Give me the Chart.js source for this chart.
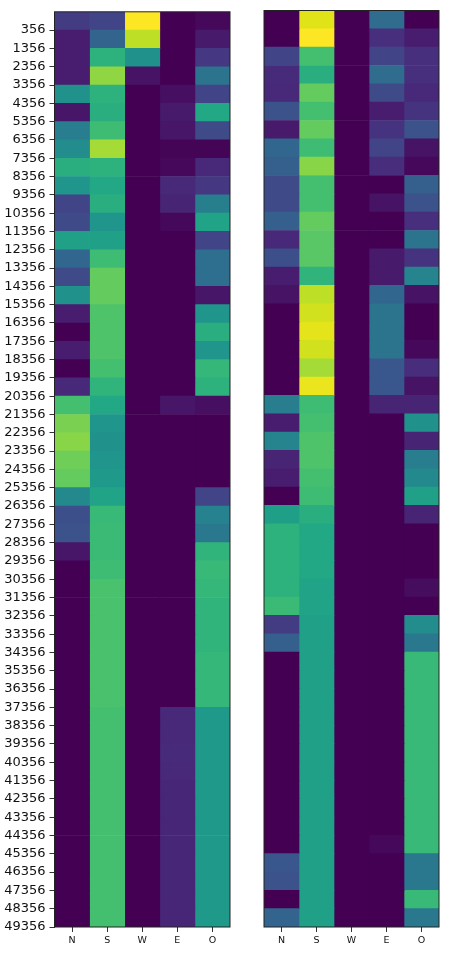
<!DOCTYPE html>
<html>
<head>
<meta charset="utf-8">
<script src="https://cdn.jsdelivr.net/npm/chart.js@4.4.1/dist/chart.umd.min.js"></script>
<style>
  body { margin: 0; background: #fff; }
  #wrap { position: relative; width: 450px; height: 955px; }
  canvas { position: absolute; top: 0; }
</style>
</head>
<body>
<div id="wrap">
  <canvas id="left" width="240" height="955" style="left:0"></canvas>
  <canvas id="right" width="210" height="955" style="left:240px"></canvas>
</div>
<script>
const columns = ['N', 'S', 'W', 'E', 'O']
const rowLabels = ['356','1356','2356','3356','4356','5356','6356','7356','8356','9356',
  '10356','11356','12356','13356','14356','15356','16356','17356','18356','19356',
  '20356','21356','22356','23356','24356','25356','26356','27356','28356','29356',
  '30356','31356','32356','33356','34356','35356','36356','37356','38356','39356',
  '40356','41356','42356','43356','44356','45356','46356','47356','48356','49356']

// left panel, one array per column (0..1 colour scale)
const leftN = [0.18,0.08,0.08,0.08,0.5,0.06,0.42,0.48,0.62,0.52,0.2,0.22,0.57,0.33,0.22,0.5,0.08,0,0.08,0,
  0.12,0.7,0.8,0.82,0.78,0.76,0.47,0.24,0.25,0.06,0,0,0,0,0,0,0,0,0,0,
  0,0,0,0,0,0,0,0,0,0]
const leftS = [0.2,0.32,0.63,0.83,0.63,0.62,0.68,0.86,0.63,0.6,0.62,0.52,0.57,0.68,0.76,0.76,0.72,0.72,0.72,0.7,
  0.64,0.6,0.52,0.5,0.52,0.54,0.58,0.66,0.67,0.67,0.68,0.71,0.71,0.71,0.71,0.71,0.71,0.71,0.7,0.7,
  0.7,0.7,0.7,0.7,0.7,0.7,0.7,0.7,0.7,0.7]
const leftW = [1.0,0.9,0.5,0.05,0,0,0,0,0,0,0,0,0,0,0,0,0,0,0,0,
  0,0,0,0,0,0,0,0,0,0,0,0,0,0,0,0,0,0,0,0,
  0,0,0,0,0,0,0,0,0,0]
const leftE = [0,0,0,0,0.04,0.07,0.06,0.01,0.02,0.12,0.1,0.02,0,0,0,0,0,0,0,0,
  0,0.06,0,0,0,0,0,0,0,0,0,0,0,0,0,0,0,0,0.12,0.12,
  0.13,0.12,0.11,0.11,0.11,0.11,0.11,0.11,0.11,0.11]
const leftO = [0.02,0.07,0.17,0.38,0.2,0.6,0.22,0.01,0.12,0.17,0.43,0.58,0.2,0.36,0.36,0.06,0.52,0.62,0.52,0.65,
  0.63,0.04,0,0,0,0,0.2,0.44,0.4,0.64,0.66,0.65,0.64,0.64,0.64,0.65,0.65,0.65,0.54,0.54,
  0.54,0.54,0.54,0.54,0.54,0.54,0.54,0.54,0.54,0.54]

// right panel
const rightN = [0,0,0.2,0.13,0.12,0.25,0.07,0.33,0.3,0.22,0.22,0.3,0.12,0.24,0.08,0.05,0,0,0,0,
  0,0.42,0.08,0.45,0.1,0.08,0,0.56,0.63,0.63,0.63,0.63,0.67,0.18,0.3,0,0,0,0,0,
  0,0,0,0,0,0,0.27,0.25,0,0.32]
const rightS = [0.95,1.0,0.7,0.62,0.76,0.7,0.76,0.68,0.82,0.7,0.7,0.76,0.74,0.74,0.64,0.9,0.93,0.96,0.93,0.86,
  0.97,0.68,0.7,0.72,0.72,0.7,0.68,0.62,0.6,0.6,0.6,0.58,0.58,0.57,0.57,0.57,0.57,0.57,0.57,0.57,
  0.57,0.57,0.57,0.57,0.57,0.57,0.57,0.57,0.57,0.57]
const rightW = [0,0,0,0,0,0,0,0,0,0,0,0,0,0,0,0,0,0,0,0,
  0,0,0,0,0,0,0,0,0,0,0,0,0,0,0,0,0,0,0,0,
  0,0,0,0,0,0,0,0,0,0]
const rightE = [0.35,0.15,0.2,0.35,0.22,0.08,0.16,0.2,0.14,0,0.05,0,0,0.07,0.07,0.33,0.38,0.38,0.38,0.27,
  0.27,0.1,0,0,0,0,0,0,0,0,0,0,0,0,0,0,0,0,0,0,
  0,0,0,0,0,0.02,0,0,0,0]
const rightO = [0,0.08,0.15,0.15,0.12,0.16,0.25,0.05,0.02,0.3,0.25,0.15,0.38,0.16,0.45,0.05,0,0,0.02,0.14,
  0.05,0.1,0.5,0.1,0.42,0.47,0.57,0.1,0,0,0,0.03,0,0.48,0.4,0.66,0.66,0.66,0.66,0.66,
  0.66,0.66,0.66,0.66,0.66,0.66,0.4,0.4,0.66,0.4]

const viridisStops = ['#440154','#471365','#482475','#472f7d','#414487','#3b528b','#355f8d','#2f6c8e',
  '#2a788e','#25848e','#21918c','#1e9c89','#22a884','#35b779','#44bf70','#5ec962','#7ad151',
  '#9fda3a','#bddf26','#dfe318','#fde725']

function hex(c) { return [1, 3, 5].map(i => parseInt(c.slice(i, i + 2), 16)) }
function viridis(v) {
  const t = Math.max(0, Math.min(1, v)) * (viridisStops.length - 1)
  const i = Math.min(Math.floor(t), viridisStops.length - 2)
  const f = t - i
  const a = hex(viridisStops[i]), b = hex(viridisStops[i + 1])
  const rgb = a.map((x, k) => Math.round(x + (b[k] - x) * f))
  return 'rgb(' + rgb.join(',') + ')'
}

const frame = {
  id: 'frame',
  afterDatasetsDraw(chart) {
    const { ctx, chartArea: a } = chart
    ctx.save()
    ctx.strokeStyle = '#222'
    ctx.lineWidth = 1
    ctx.strokeRect(a.left, a.top, a.right - a.left, a.bottom - a.top)
    ctx.restore()
  }
}

function makeChart(id, cols, showY, padding) {
  const datasets = cols.map((vals, c) => ({
    data: vals.map((v, r) => ({ x: [c, c + 1], y: r + 0.5 })),
    backgroundColor: vals.map(viridis),
    borderWidth: 0,
    grouped: false,
    barPercentage: 1,
    categoryPercentage: 1,
  }))
  return new Chart(document.getElementById(id), {
    type: 'bar',
    data: { datasets },
    plugins: [frame],
    options: {
      indexAxis: 'y',
      responsive: false,
      animation: false,
      layout: { padding },
      plugins: { legend: { display: false }, tooltip: { enabled: false } },
      scales: {
        x: {
          type: 'linear', min: 0, max: 5, offset: false,
          afterBuildTicks: s => { s.ticks = columns.map((_, i) => ({ value: i + 0.5 })) },
          afterFit: s => { s.height = 28 },
          grid: { display: true, drawOnChartArea: false, drawTicks: true, tickLength: 5, color: '#333', offset: false },
          border: { display: false },
          ticks: {
            callback: v => columns[Math.floor(v)],
            font: { family: 'DejaVu Sans', size: 9.5 }, color: '#111', padding: 3, maxRotation: 0
          }
        },
        y: {
          type: 'linear', min: 0, max: 50, reverse: true, display: showY, offset: false,
          afterBuildTicks: s => { s.ticks = rowLabels.map((_, i) => ({ value: i + 1 })) },
          afterFit: s => { if (showY) s.width = 54.5 },
          grid: { display: true, drawOnChartArea: false, drawTicks: true, tickLength: 5, color: '#333', offset: false },
          border: { display: false },
          ticks: {
            callback: v => rowLabels[v - 1],
            font: { family: 'DejaVu Sans', size: 13 }, color: '#111', padding: 4, autoSkip: false
          }
        }
      }
    }
  })
}

makeChart('left', [leftN, leftS, leftW, leftE, leftO], true, { top: 10.5, right: 10, bottom: 0, left: 0 })
makeChart('right', [rightN, rightS, rightW, rightE, rightO], false, { top: 10.5, right: 11, bottom: 0, left: 24 })
</script>
</body>
</html>
